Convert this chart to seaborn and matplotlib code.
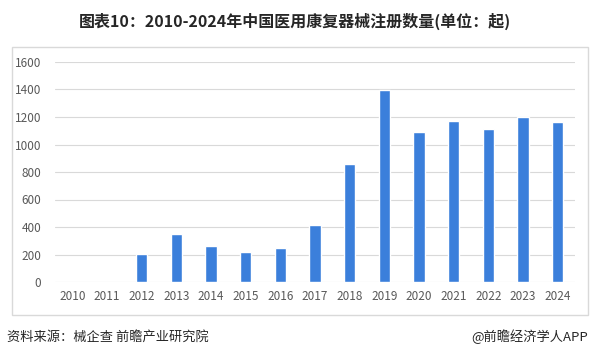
import matplotlib
matplotlib.use("Agg")
import matplotlib.pyplot as plt
import seaborn as sns
import pandas as pd
from matplotlib.patches import Rectangle

years = ["2010", "2011", "2012", "2013", "2014", "2015", "2016", "2017",
         "2018", "2019", "2020", "2021", "2022", "2023", "2024"]
counts = [0, 0, 205, 350, 263, 220, 250, 415, 855, 1398, 1090, 1170, 1112, 1200, 1165]
yticks = [0, 200, 400, 600, 800, 1000, 1200, 1400, 1600]

title = "图表10：2010-2024年中国医用康复器械注册数量(单位：起)"
source = "资料来源：械企查 前瞻产业研究院"
credit = "@前瞻经济学人APP"

sns.set_theme(style="white")
plt.rcParams["font.family"] = ["Noto Sans CJK SC", "DejaVu Sans"]

df = pd.DataFrame({"year": years, "count": counts})

fig = plt.figure(figsize=(5.9, 3.57), dpi=100)
fig.patch.set_facecolor("white")

# outer frame
fig.patches.append(Rectangle((12 / 590, 1 - 315 / 357), (588 - 12) / 590, (315 - 47) / 357,
                             transform=fig.transFigure, fill=False,
                             edgecolor="#d9d9d9", linewidth=1.0, zorder=0))

ax = fig.add_axes([55 / 590, 1 - 282 / 357, (575 - 55) / 590, (282 - 62) / 357])
sns.barplot(data=df, x="year", y="count", color="#3b7fdb", width=0.33,
            saturation=1, ax=ax, zorder=3)
ax.set_ylim(0, 1600)
ax.set_yticks(yticks)
ax.set_xlim(-0.5, len(years) - 0.5)
ax.grid(axis="y", color="#d9d9d9", linewidth=0.8, zorder=0)
ax.set_axisbelow(True)
for s in ax.spines.values():
    s.set_visible(False)
ax.set_xlabel("")
ax.set_ylabel("")
ax.tick_params(axis="both", length=0, labelsize=8.5, colors="#595959", pad=6)
ax.tick_params(axis="y", pad=10)

fig.text(0.5, 1 - 21 / 357, title, ha="center", va="center", fontsize=11.5,
         fontweight="bold", color="#262626")
fig.text(7 / 590, 1 - 337 / 357, source, ha="left", va="center", fontsize=9.5,
         color="#262626")
fig.text(588 / 590, 1 - 337 / 357, credit, ha="right", va="center", fontsize=9.5,
         color="#262626")

fig.savefig("out.png", dpi=100, facecolor="white")
